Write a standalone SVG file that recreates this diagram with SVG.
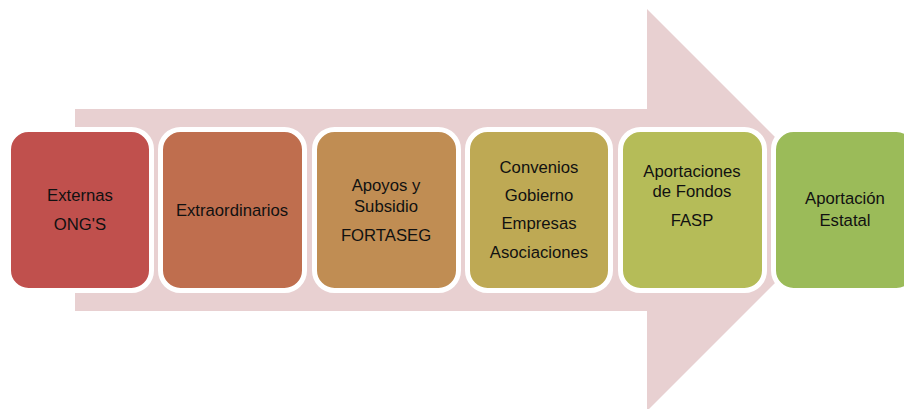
<svg xmlns="http://www.w3.org/2000/svg" width="904" height="409" viewBox="0 0 904 409">
<style>
.box{stroke:#FFFFFF;stroke-width:5}
.t{font-family:"Liberation Sans",Arial,sans-serif;font-size:16.7px;fill:#111111;text-anchor:middle}
</style>
<rect x="0" y="0" width="904" height="409" fill="#FFFFFF"/>
<g id="arrow">
<polygon points="75,109 647,109 647,9 848,210 647,411 647,311 75,311" fill="#E8D0D1"/>
</g>
<g id="connectors"></g>
<g id="n1">
<rect class="box" x="8.5" y="129.5" width="143" height="161" rx="20" fill="#C0504D"/>
<text class="t" x="80" y="201">Externas</text>
<text class="t" x="80" y="230">ONG'S</text>
</g>
<g id="n2">
<rect class="box" x="160.5" y="129.5" width="144" height="161" rx="20" fill="#BF6E4E"/>
<text class="t" x="232" y="216">Extraordinarios</text>
</g>
<g id="n3">
<rect class="box" x="314.5" y="129.5" width="144" height="161" rx="20" fill="#C08D53"/>
<text class="t" x="386" y="191">Apoyos y</text>
<text class="t" x="386" y="211.5">Subsidio</text>
<text class="t" x="386" y="241">FORTASEG</text>
</g>
<g id="n4">
<rect class="box" x="467.5" y="129.5" width="143" height="161" rx="20" fill="#BEA954"/>
<text class="t" x="539" y="172.7">Convenios</text>
<text class="t" x="539" y="201">Gobierno</text>
<text class="t" x="539" y="229.3">Empresas</text>
<text class="t" x="539" y="257.7">Asociaciones</text>
</g>
<g id="n5">
<rect class="box" x="620.5" y="129.5" width="144" height="161" rx="20" fill="#B5BC58"/>
<text class="t" x="692" y="176.7">Aportaciones</text>
<text class="t" x="692" y="197.3">de Fondos</text>
<text class="t" x="692" y="225.7">FASP</text>
</g>
<g id="n6">
<rect class="box" x="773.5" y="129.5" width="143" height="161" rx="20" fill="#9BBB59"/>
<text class="t" x="845" y="204.3">Aportación</text>
<text class="t" x="845" y="225.7">Estatal</text>
</g>
</svg>
